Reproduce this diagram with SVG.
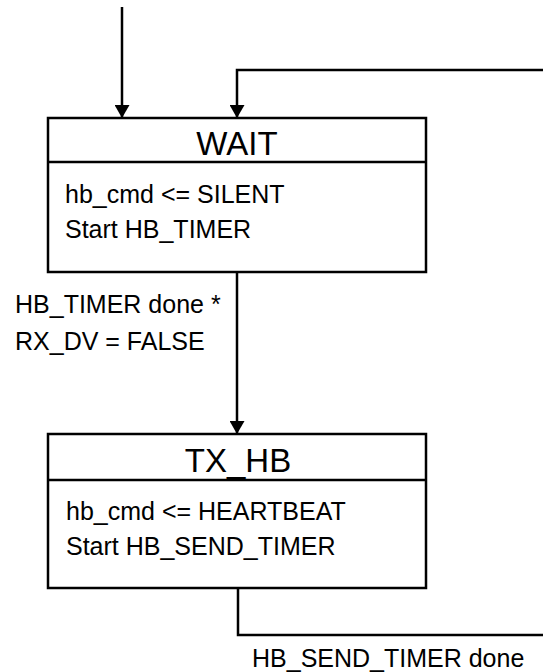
<svg xmlns="http://www.w3.org/2000/svg" width="543" height="672" viewBox="0 0 543 672">
<style>
.box{fill:#fff;stroke:#000;stroke-width:2.5}
.sep{stroke:#000;stroke-width:2.5}
.conn{fill:none;stroke:#000;stroke-width:2.5}
.title{font-family:"Liberation Sans",Arial,sans-serif;font-size:33px;fill:#000;text-anchor:middle}
.body{font-family:"Liberation Sans",Arial,sans-serif;font-size:25px;fill:#000}
</style>
<defs>
<marker id="arr" markerUnits="userSpaceOnUse" markerWidth="13" markerHeight="15" refX="13" refY="7.5" orient="auto">
<path d="M0,0 L13,7.5 L0,15 z" fill="#000"/>
</marker>
</defs>
<g id="connectors">
<line class="conn" x1="122" y1="7" x2="122" y2="118" marker-end="url(#arr)"/>
<polyline class="conn" points="543,70 237,70 237,118" marker-end="url(#arr)"/>
<line class="conn" x1="237" y1="272" x2="237" y2="434" marker-end="url(#arr)"/>
<polyline class="conn" points="238,588 238,635 543,635"/>
<text class="body" x="15" y="313">HB_TIMER done *</text>
<text class="body" x="15" y="350">RX_DV = FALSE</text>
<text class="body" x="252" y="667">HB_SEND_TIMER done</text>
</g>
<g id="WAIT">
<rect class="box" x="48" y="118" width="378" height="154"/>
<line class="sep" x1="48" y1="162" x2="426" y2="162"/>
<text class="title" x="237" y="155">WAIT</text>
<text class="body" x="65" y="203">hb_cmd &lt;= SILENT</text>
<text class="body" x="65" y="238">Start HB_TIMER</text>
</g>
<g id="TX_HB">
<rect class="box" x="48" y="434" width="378" height="154"/>
<line class="sep" x1="48" y1="480" x2="426" y2="480"/>
<text class="title" x="238" y="472">TX_HB</text>
<text class="body" x="66" y="520">hb_cmd &lt;= HEARTBEAT</text>
<text class="body" x="66" y="555">Start HB_SEND_TIMER</text>
</g>
</svg>
